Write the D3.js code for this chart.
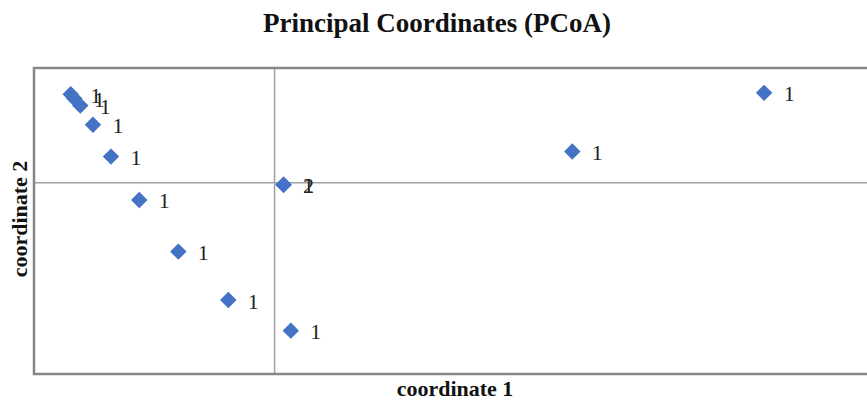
<!DOCTYPE html>
<html>
<head>
<meta charset="utf-8">
<script src="https://cdn.jsdelivr.net/npm/d3@7"></script>
<style>
  html, body { margin: 0; padding: 0; background: #fff; }
  svg { display: block; }
</style>
</head>
<body>
<svg id="chart" width="867" height="401"></svg>
<script>
// PCoA sample scores and their point labels
const coord1 = [-0.339, -0.333, -0.323, -0.302, -0.272, -0.225, -0.160, -0.077, 0.027, 0.015, 0.015, 0.495, 0.814];
const coord2 = [0.139, 0.132, 0.121, 0.091, 0.041, -0.027, -0.108, -0.184, -0.232, -0.003, -0.003, 0.049, 0.141];
const pointLabels = ["1", "1", "1", "1", "1", "1", "1", "1", "1", "1", "2", "1", "1"];

const xDomain = [-0.4, 1.0];
const yDomain = [-0.3, 0.18];

const chartTitle = "Principal Coordinates (PCoA)";
const xTitle = "coordinate 1";
const yTitle = "coordinate 2";

const serif = "'Liberation Serif', 'Times New Roman', serif";
const svg = d3.select("#chart");
const plot = { left: 34, top: 68, right: 876, bottom: 374 };

const x = d3.scaleLinear().domain(xDomain).range([plot.left, plot.right]);
const y = d3.scaleLinear().domain(yDomain).range([plot.bottom, plot.top]);

const points = coord1.map((c, i) => ({ c1: c, c2: coord2[i], label: pointLabels[i] }));

// zero reference lines
svg.append("line")
  .attr("x1", x(0)).attr("x2", x(0))
  .attr("y1", plot.top).attr("y2", plot.bottom)
  .attr("stroke", "#a0a0a0").attr("stroke-width", 1.5);
svg.append("line")
  .attr("x1", plot.left).attr("x2", plot.right)
  .attr("y1", y(0)).attr("y2", y(0))
  .attr("stroke", "#a0a0a0").attr("stroke-width", 1.5);

// plot frame
svg.append("rect")
  .attr("x", plot.left).attr("y", plot.top)
  .attr("width", plot.right - plot.left).attr("height", plot.bottom - plot.top)
  .attr("fill", "none").attr("stroke", "#868686").attr("stroke-width", 2.5);

// diamond markers
const diamond = d3.symbol().type(d3.symbolSquare).size(135);
svg.append("g").selectAll("path")
  .data(points)
  .join("path")
  .attr("d", diamond)
  .attr("transform", d => `translate(${x(d.c1)},${y(d.c2)}) rotate(45)`)
  .attr("fill", "#4472c4");

// point labels
svg.append("g").selectAll("text")
  .data(points)
  .join("text")
  .attr("x", d => x(d.c1) + 19.5)
  .attr("y", d => y(d.c2) + 8.5)
  .attr("font-family", serif)
  .attr("font-size", 22)
  .attr("fill", "#222")
  .text(d => d.label);

// titles
svg.append("text")
  .attr("x", 437).attr("y", 32)
  .attr("text-anchor", "middle")
  .attr("font-family", serif)
  .attr("font-weight", "bold").attr("font-size", 27)
  .attr("fill", "#111")
  .text(chartTitle);

svg.append("text")
  .attr("x", (plot.left + plot.right) / 2).attr("y", 396)
  .attr("text-anchor", "middle")
  .attr("font-family", serif)
  .attr("font-weight", "bold").attr("font-size", 22)
  .attr("fill", "#111")
  .text(xTitle);

svg.append("text")
  .attr("transform", `translate(27,219) rotate(-90)`)
  .attr("text-anchor", "middle")
  .attr("font-family", serif)
  .attr("font-weight", "bold").attr("font-size", 22)
  .attr("fill", "#111")
  .text(yTitle);
</script>
</body>
</html>
